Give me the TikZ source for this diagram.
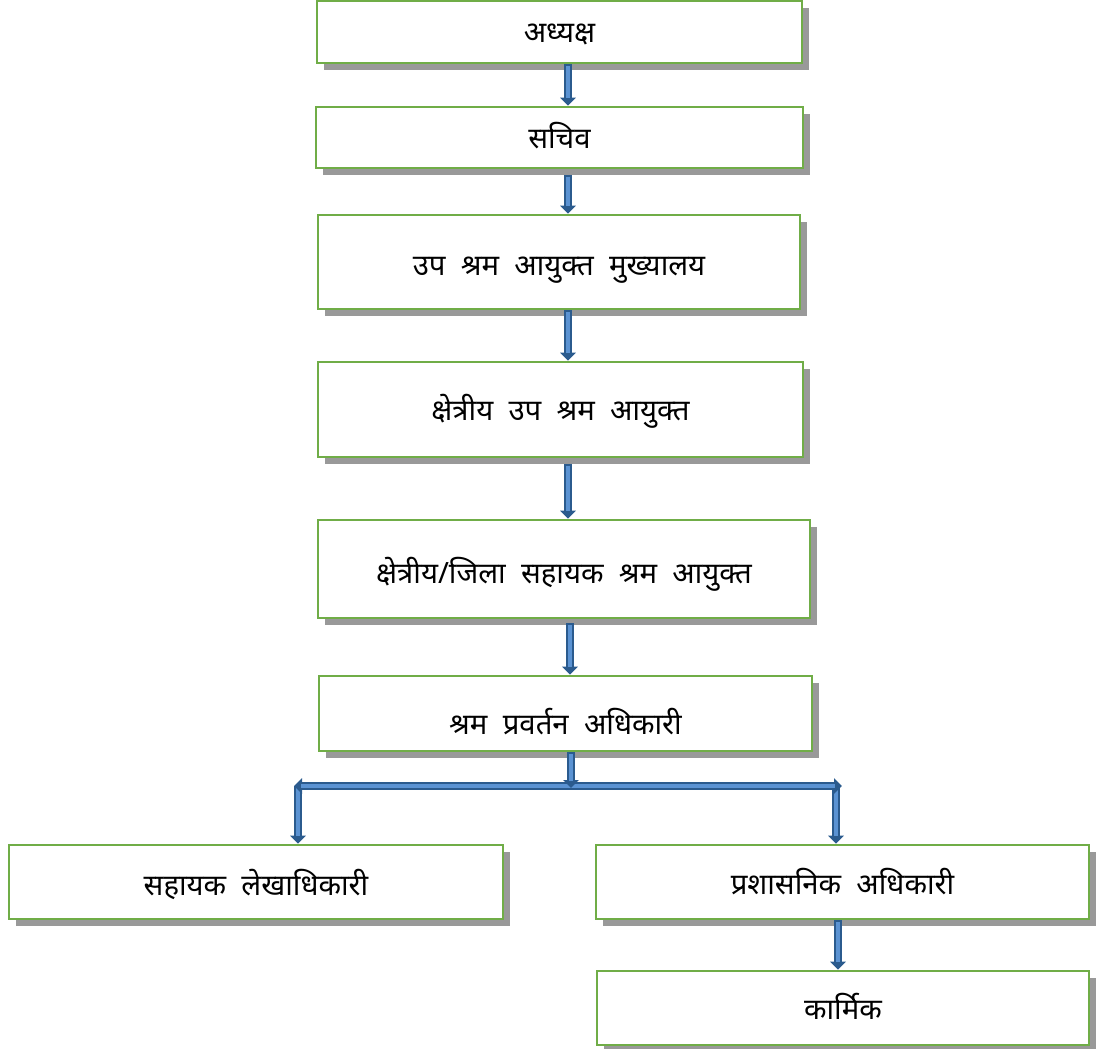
\documentclass[tikz,border=0pt]{standalone}
\usepackage{fontspec}
\newfontfamily\deva[Script=Devanagari]{Noto Sans}
\usetikzlibrary{arrows.meta,shadows}
\definecolor{boxgreen}{HTML}{70AD47}
\definecolor{arrdark}{HTML}{2B5B8E}
\definecolor{arrlight}{HTML}{5B93D3}
\definecolor{shadowgray}{HTML}{999999}
\tikzset{
  orgbox/.style={draw=boxgreen, line width=2pt, fill=white, inner sep=0pt,
    font=\deva\fontsize{22}{26}\selectfont, text=black,
    text height=18pt, text depth=0pt,
    drop shadow={shadow xshift=5.5pt, shadow yshift=-5.5pt, fill=shadowgray, opacity=1}},
  blarrow/.style={draw=arrdark, line width=6pt, -{Triangle[width=11.5pt,length=6pt]},
    postaction={draw=arrlight, line width=2.6pt, -, shorten >=5.5pt, shorten <=1.5pt}},
  blbar/.style={draw=arrdark, line width=6pt, {Triangle[width=11.5pt,length=6pt]}-{Triangle[width=11.5pt,length=6pt]},
    postaction={draw=arrlight, line width=2.6pt, -, shorten >=5.5pt, shorten <=5.5pt}}
}
\begin{document}
\begin{tikzpicture}[x=0.75pt,y=-0.75pt]
\useasboundingbox (0,0) rectangle (1097,1049);
\node[orgbox, minimum width=363.75pt, minimum height=46.5pt, text height=16pt] (b1) at (559.5,32) {अध्यक्ष};
\node[orgbox, minimum width=365.25pt, minimum height=45.75pt, text height=16pt] (b2) at (559.5,137.5) {सचिव};
\node[orgbox, minimum width=361.5pt, minimum height=70.5pt, text height=19.5pt] (b3) at (559,262) {उप\ \ श्रम\ \ आयुक्त\ \ मुख्यालय};
\node[orgbox, minimum width=363.75pt, minimum height=71.25pt, text height=16pt] (b4) at (560.5,409.5) {क्षेत्रीय\ \ उप\ \ श्रम\ \ आयुक्त};
\node[orgbox, minimum width=369pt, minimum height=73.5pt, text height=21pt] (b5) at (564,569) {क्षेत्रीय/जिला\ \ सहायक\ \ श्रम\ \ आयुक्त};
\node[orgbox, minimum width=369.75pt, minimum height=56.25pt, text height=31pt] (b6) at (565.5,713.5) {श्रम\ \ प्रवर्तन\ \ अधिकारी};
\node[orgbox, minimum width=370.5pt, minimum height=55.5pt, text height=19.5pt] (b7) at (256,882) {सहायक\ \ लेखाधिकारी};
\node[orgbox, minimum width=369.75pt, minimum height=55.5pt] (b8) at (842.5,882) {प्रशासनिक\ \ अधिकारी};
\node[orgbox, minimum width=369pt, minimum height=55.5pt, text height=16.5pt] (b9) at (843,1008) {कार्मिक};
\coordinate (xa) at (568,0);
\coordinate (xb) at (570,0);
\coordinate (xc) at (571,0);
\coordinate (xd) at (838,0);
\coordinate (jc) at (571,788);
\coordinate (jl) at (298,786);
\coordinate (jr) at (836,786);
\coordinate (bl) at (294,786);
\coordinate (br) at (842,786);
\draw[blarrow] (xa |- b1.south) -- (xa |- b2.north);
\draw[blarrow] ([yshift=-4pt]xa |- b2.south) -- (xa |- b3.north);
\draw[blarrow] (xa |- b3.south) -- (xa |- b4.north);
\draw[blarrow] ([yshift=-4pt]xa |- b4.south) -- (xa |- b5.north);
\draw[blarrow] ([yshift=-3pt]xb |- b5.south) -- (xb |- b6.north);
\draw[blarrow] (jl) -- (jl |- b7.north);
\draw[blarrow] (jr) -- (jr |- b8.north);
\draw[blbar] (bl) -- (br);
\draw[blarrow] (xc |- b6.south) -- (jc);
\draw[blarrow] (xd |- b8.south) -- (xd |- b9.north);
\end{tikzpicture}
\end{document}
